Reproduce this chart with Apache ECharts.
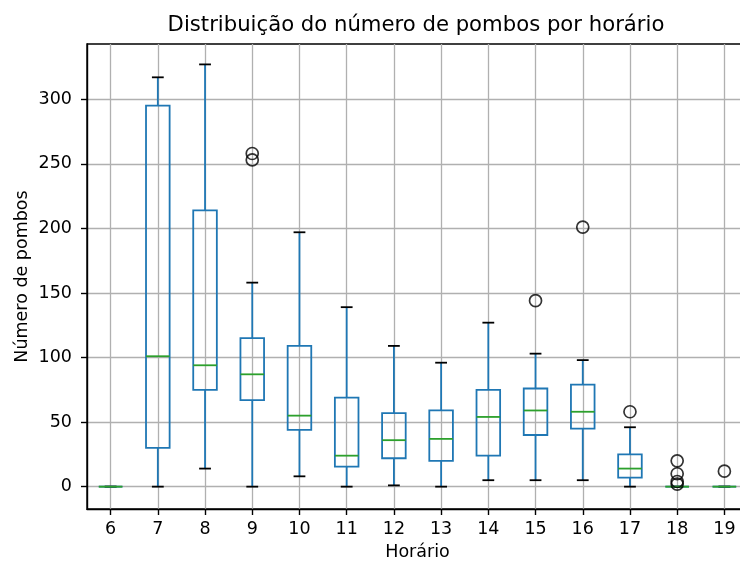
<!DOCTYPE html>
<html>
<head>
<meta charset="utf-8">
<script src="https://cdn.jsdelivr.net/npm/echarts@6/dist/echarts.min.js"></script>
<style>
  html, body { margin: 0; padding: 0; background: #fff; }
  #chart { width: 740px; height: 562px; }
</style>
</head>
<body>
<div id="chart"></div>
<script>
// Pigeon counts per hour: five-number summaries for each box
const hours       = [6, 7, 8, 9, 10, 11, 12, 13, 14, 15, 16, 17, 18, 19];
const whiskerLow  = [0, 0, 14, 0, 8, 0, 1, 0, 5, 5, 5, 0, 0, 0];
const quartile1   = [0, 30, 75, 67, 44, 15.5, 22, 20, 24, 40, 45, 7, 0, 0];
const medians     = [0, 101, 94, 87, 55, 24, 36, 37, 54, 59, 58, 14, 0, 0];
const quartile3   = [0, 295, 214, 115, 109, 69, 57, 59, 75, 76, 79, 25, 0, 0];
const whiskerHigh = [0, 317, 327, 158, 197, 139, 109, 96, 127, 103, 98, 46, 0, 0];

// Points beyond the whiskers
const outlierHours  = [9, 9, 15, 16, 17, 18, 18, 18, 18, 19];
const outlierValues = [258, 253, 144, 201, 58, 20, 10, 4, 2, 12];

// Y-axis tick labels
const yTicks = [0, 50, 100, 150, 200, 250, 300];

const FONT = 'DejaVu Sans';
const BLUE = '#1f77b4';
const GREEN = '#2ca02c';
const LW = 1.8;

const boxData = hours.map((h, i) => [h, whiskerLow[i], quartile1[i], medians[i], quartile3[i], whiskerHigh[i]]);
const outlierData = outlierHours.map((h, i) => [h, outlierValues[i]]);

function renderBox(params, api) {
  const x = api.value(0);
  const pMin = api.coord([x, api.value(1)]);
  const pQ1 = api.coord([x, api.value(2)]);
  const pMed = api.coord([x, api.value(3)]);
  const pQ3 = api.coord([x, api.value(4)]);
  const pMax = api.coord([x, api.value(5)]);
  const unit = api.size([1, 0])[0];
  const bw = unit * 0.5;
  const cw = bw * 0.5;
  const cx = pMed[0];
  const line = (x1, y1, x2, y2, color) => ({
    type: 'line',
    shape: { x1, y1, x2, y2 },
    style: { stroke: color, lineWidth: LW, fill: null }
  });
  return {
    type: 'group',
    children: [
      line(cx, pQ1[1], cx, pMin[1], BLUE),
      line(cx, pQ3[1], cx, pMax[1], BLUE),
      line(cx - cw / 2, pMin[1], cx + cw / 2, pMin[1], '#000'),
      line(cx - cw / 2, pMax[1], cx + cw / 2, pMax[1], '#000'),
      {
        type: 'rect',
        shape: { x: cx - bw / 2, y: pQ3[1], width: bw, height: pQ1[1] - pQ3[1] },
        style: { stroke: BLUE, lineWidth: LW, fill: null }
      },
      line(cx - bw / 2, pMed[1], cx + bw / 2, pMed[1], GREEN)
    ]
  };
}

const chart = echarts.init(document.getElementById('chart'), null, { renderer: 'canvas' });

chart.setOption({
  animation: false,
  backgroundColor: '#fff',
  textStyle: { fontFamily: FONT },
  title: {
    text: 'Distribuição do número de pombos por horário',
    left: 411,
    textAlign: 'center',
    top: 10,
    textStyle: { fontFamily: FONT, fontSize: 21.2, fontWeight: 'normal', color: '#000' }
  },
  grid: {
    left: 87, right: -8, top: 44, bottom: 53,
    outerBoundsMode: 'none',
    containLabel: false,
    show: true, borderColor: '#000', borderWidth: 1.4, backgroundColor: 'transparent'
  },
  xAxis: {
    type: 'value',
    min: 5.5, max: 19.5,
    name: 'Horário',
    nameLocation: 'middle',
    nameGap: 34,
    nameMoveOverlap: false,
    nameTextStyle: { fontFamily: FONT, fontSize: 17.5, color: '#000' },
    axisLine: { show: true, onZero: false, lineStyle: { color: '#000', width: 1.4 } },
    axisTick: { show: true, length: 6, lineStyle: { color: '#000', width: 1.4 }, customValues: hours },
    axisLabel: { customValues: hours, margin: 11, fontFamily: FONT, fontSize: 17.5, color: '#000' },
    splitLine: { show: true, lineStyle: { color: '#b0b0b0', width: 1.3 } }
  },
  yAxis: {
    type: 'value',
    min: -17.3, max: 342.8,
    name: 'Número de pombos',
    nameLocation: 'middle',
    nameGap: 56,
    nameRotate: 90,
    nameMoveOverlap: false,
    nameTextStyle: { fontFamily: FONT, fontSize: 17.5, color: '#000' },
    axisLine: { show: true, onZero: false, lineStyle: { color: '#000', width: 1.4 } },
    axisTick: { show: true, length: 6, lineStyle: { color: '#000', width: 1.4 }, customValues: yTicks },
    axisLabel: { customValues: yTicks, margin: 15, fontFamily: FONT, fontSize: 17.5, color: '#000' },
    splitLine: { show: true, lineStyle: { color: '#b0b0b0', width: 1.3 } }
  },
  series: [
    {
      type: 'custom',
      renderItem: renderBox,
      data: boxData,
      encode: { x: 0, y: [1, 2, 3, 4, 5] },
      clip: true,
      z: 3
    },
    {
      type: 'scatter',
      data: outlierData,
      symbol: 'circle',
      symbolSize: 12,
      itemStyle: { color: 'rgba(0,0,0,0)', borderColor: '#000', borderWidth: 1.7 },
      z: 4
    }
  ]
});
</script>
</body>
</html>
